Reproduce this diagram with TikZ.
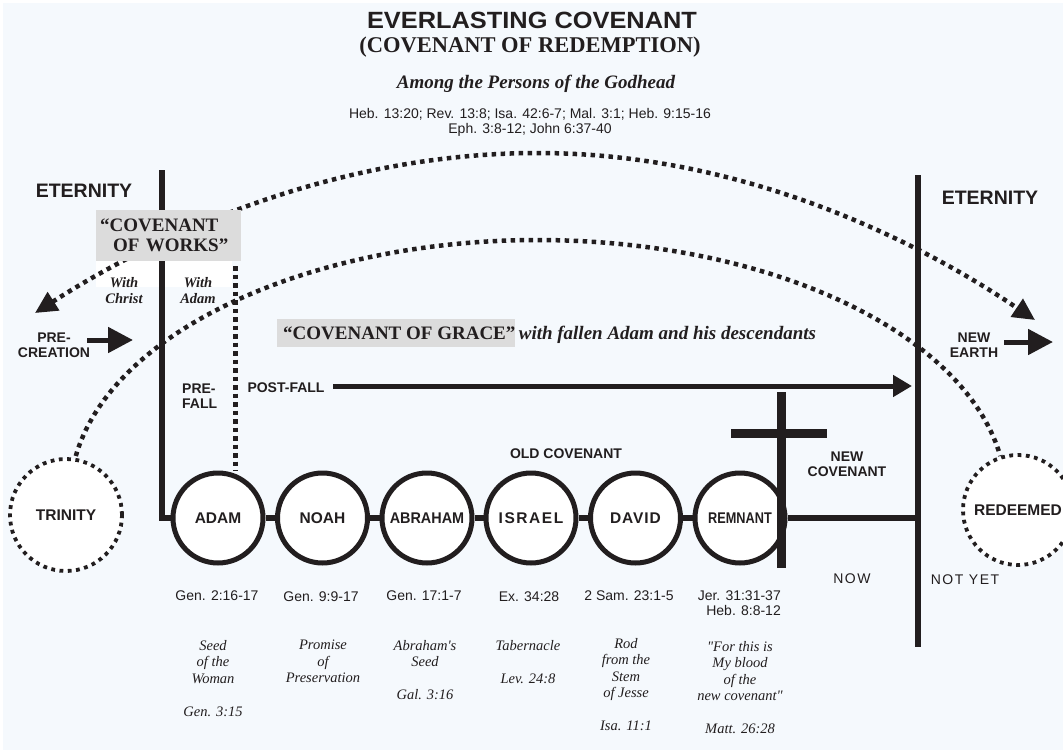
\documentclass[tikz,border=0pt]{standalone}
\usepackage{fontspec}
\usepackage{graphicx}
\setmainfont{Liberation Serif}
\setsansfont{Liberation Sans}
% plain family for the italic notes: keeps straight quotes and apostrophes
\newfontfamily\notefont{Liberation Serif}
\usetikzlibrary{arrows.meta}

\definecolor{ink}{RGB}{34,30,31}
\definecolor{paper}{RGB}{245,249,253}
\definecolor{shade}{RGB}{220,220,220}

\tikzset{
  bar/.style={draw=ink, line width=6pt, line join=miter},
  crossbar/.style={draw=ink, line width=9pt},
  shaft/.style={draw=ink, line width=5pt, -{Triangle[length=25pt,width=25pt]}},
  dots/.style={draw=ink, line width=4.5pt, dash pattern=on 4.5pt off 4.5pt},
  era/.style={circle, draw=ink, line width=5pt, fill=white, minimum size=90pt,
    inner sep=0pt, text=ink, font=\sffamily\bfseries\fontsize{15.5}{17}\selectfont},
  realm/.style={circle, draw=ink, line width=3.8pt, dash pattern=on 3.8pt off 4.5pt,
    fill=white, inner sep=0pt, text=ink, font=\sffamily\bfseries\fontsize{15.5}{17}\selectfont},
  lab/.style={text=ink, inner sep=0pt, align=center,
    font=\sffamily\bfseries\fontsize{14}{15}\selectfont},
  big/.style={text=ink, inner sep=0pt, font=\sffamily\bfseries\fontsize{19.5}{20}\selectfont},
  plainref/.style={text=ink, inner sep=0pt, align=center,
    font=\sffamily\fontsize{14}{15.5}\selectfont},
  spaced/.style={text=ink, inner sep=0pt,
    font=\sffamily\fontsize{14}{15}\selectfont\addfontfeature{LetterSpace=11}},
  note/.style={text=ink, inner sep=0pt, align=center, anchor=north,
    font=\notefont\itshape\fontsize{14.5}{16.5}\selectfont},
  party/.style={text=ink, inner sep=0pt, align=center,
    font=\bfseries\itshape\fontsize{14.5}{16}\selectfont},
}

\begin{document}
\begin{tikzpicture}[x=1pt,y=-1pt]
\useasboundingbox (0,0) rectangle (1063,750);
\fill[white] (0,0) rectangle (1063,750);
\fill[paper] (3,3) rectangle (1063,750);
\fill[white] (96,261) rectangle (232,287);

% title block
\node[text=ink, inner sep=0pt, font=\sffamily\bfseries\fontsize{23.5}{23.5}\selectfont]
  (title) at (532,20) {\scalebox{1.08}[1]{EVERLASTING COVENANT}};
\node[text=ink, inner sep=0pt, font=\bfseries\fontsize{22.5}{22.5}\selectfont]
  (subtitle) at (530,47) {(COVENANT OF REDEMPTION)};
\node[text=ink, inner sep=0pt, anchor=base, font=\bfseries\itshape\fontsize{19}{19}\selectfont]
  (godhead) at (536,88) {Among the Persons of the Godhead};
\node[plainref, anchor=north] (scripture) at (530,108)
  {Heb. 13:20; Rev. 13:8; Isa. 42:6-7; Mal. 3:1; Heb. 9:15-16\\Eph. 3:8-12; John 6:37-40};

% the covenant heads in time
\node[era] (adam)    at (218,518)   {ADAM};
\node[era] (noah)    at (322.5,518) {NOAH};
\node[era] (abraham) at (427,518)   {\scalebox{0.93}[1]{ABRAHAM}};
\node[era] (israel)  at (531,518)   {\addfontfeature{LetterSpace=10}ISRAEL};
\node[era] (david)   at (635.5,518) {\addfontfeature{LetterSpace=6}DAVID};
\node[era] (remnant) at (740,518)   {\scalebox{0.82}[1]{REMNANT}};

% eternity past and future
\node[realm, minimum size=112pt] (trinity)  at (66,515)   {TRINITY};
\node[realm, minimum size=110pt] (redeemed) at (1018,510) {REDEEMED};

% boundaries of time
\coordinate (leftTop)  at (162,170);
\coordinate (rightTop) at (918,175);
\coordinate (rightBot) at (918,647);
\draw[bar] (rightTop) -- (rightBot);
\draw[bar] (leftTop) |- (adam.west);
\draw[bar] (adam) -- (noah);
\draw[bar] (noah) -- (abraham);
\draw[bar] (abraham) -- (israel);
\draw[bar] (israel) -- (david);
\draw[bar] (david) -- (remnant);
\draw[bar] (remnant) -- (remnant -| rightTop);

% the fall
\coordinate (fallTop) at (235,266);
\draw[draw=ink, line width=5pt, dash pattern=on 4.5pt off 4pt] (fallTop) -- (fallTop |- adam.north);

% covenant arcs
\coordinate (redemptionL) at (35,313);
\coordinate (redemptionPeak) at (538,153);
\coordinate (redemptionR) at (1035,320);
\draw[dots, {Triangle[length=22pt,width=21pt]}-{Triangle[length=22pt,width=21pt]}]
  (redemptionL) parabola bend (redemptionPeak) (redemptionR);
\coordinate (graceStart) at (75.8,456);
\draw[dots] (graceStart) arc[start angle=171, end angle=9, x radius=468pt, y radius=256pt];

% the cross
\coordinate (crossTop) at (781,392);
\coordinate (crossFoot) at (781,568);
\coordinate (armL) at (731,433);
\coordinate (armR) at (827,433);
\draw[crossbar] (crossTop) -- (crossFoot);
\draw[crossbar] (armL) -- (armR);

% covenant of works
\node[fill=shade, anchor=north west, text width=137pt, inner xsep=4pt, inner ysep=0pt,
  minimum height=51pt, align=left, text=ink, font=\bfseries\fontsize{19}{20}\selectfont]
  (works) at (96,210) {“COVENANT\\\hspace*{13pt}OF WORKS”};
\node[party] (withChrist) at (124,291) {With\\Christ};
\node[party] (withAdam) at (198,291) {With\\Adam};

% eternity labels and arrows
\node[big] (eternityL) at (84,191) {ETERNITY};
\node[big] (eternityR) at (990,198) {ETERNITY};
\node[lab] (precreation) at (54,345) {PRE-\\CREATION};
\coordinate (preA) at (87,340);
\coordinate (preB) at (133,340);
\draw[shaft] (preA) -- (preB);
\node[lab] (newearth) at (974,345) {NEW\\EARTH};
\coordinate (newA) at (1004,342);
\coordinate (newB) at (1053,342);
\draw[shaft] (newA) -- (newB);

% covenant of grace
\node[fill=shade, anchor=west, minimum height=28pt, inner xsep=0pt, inner ysep=0pt,
  text=ink, font=\bfseries\fontsize{19}{19}\selectfont]
  (grace) at (277,333) {\hspace*{6pt}“COVENANT OF GRACE”};
\node[anchor=base west, inner sep=0pt, text=ink, font=\bfseries\itshape\fontsize{19}{19}\selectfont]
  (graceWith) at ([xshift=3pt]grace.base east) {with fallen Adam and his descendants};

% before and after the fall
\node[lab, anchor=west, align=left] (prefall) at (182,396) {PRE-\\FALL};
\node[lab] (postfall) at (286,388) {POST-FALL};
\coordinate (postA) at (333,386);
\coordinate (postB) at (912,386);
\draw[draw=ink, line width=5pt, -{Triangle[length=19pt,width=21pt]}] (postA) -- (postB);

\node[lab] (oldcov) at (566,454) {OLD COVENANT};
\node[lab] (newcov) at (847,464) {NEW\\COVENANT};
\node[spaced] (now) at (852,579) {NOW};
\node[spaced] (notyet) at (965,580) {NOT YET};

% scripture references
\node[plainref] (refAdam) at (217,596) {Gen. 2:16-17};
\node[plainref] (refNoah) at (321,597) {Gen. 9:9-17};
\node[plainref] (refAbraham) at (424,596) {Gen. 17:1-7};
\node[plainref] (refIsrael) at (529,597) {Ex. 34:28};
\node[plainref] (refDavid) at (629,596) {2 Sam. 23:1-5};
\node[plainref, anchor=east, align=right] (refRemnant) at (781,603) {Jer. 31:31-37\\Heb. 8:8-12};

% promises
\node[note] (seed) at (213,640) {Seed\\of the\\Woman\\[16.5pt]Gen. 3:15};
\node[note] (promise) at (323,640) {Promise\\of\\Preservation};
\node[note] (abrseed) at (425,640) {Abraham's\\Seed\\[16.5pt]Gal. 3:16};
\node[note] (tabernacle) at (528,640) {Tabernacle\\[16.5pt]Lev. 24:8};
\node[note] (rod) at (626,638) {Rod\\from the\\Stem\\of Jesse\\[16.5pt]Isa. 11:1};
\node[note] (blood) at (740,641) {"For this is\\My blood\\of the\\new covenant"\\[16.5pt]Matt. 26:28};
\end{tikzpicture}
\end{document}
